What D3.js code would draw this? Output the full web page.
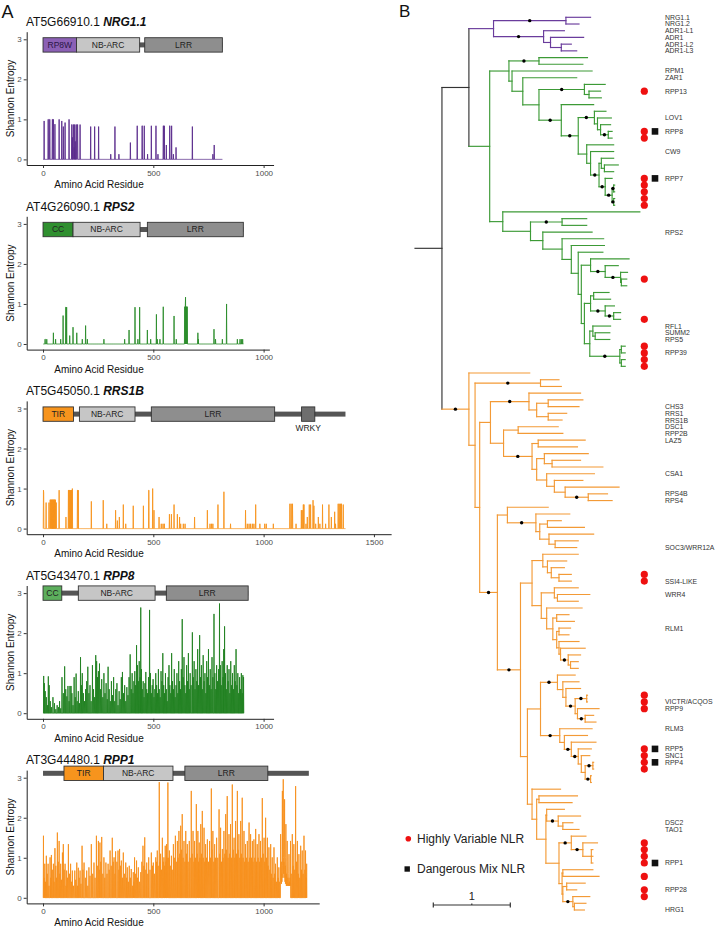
<!DOCTYPE html>
<html><head><meta charset="utf-8">
<script src="https://cdn.jsdelivr.net/npm/d3@7"></script>
<style>
body{margin:0;background:#fff;}
svg{display:block;font-family:"Liberation Sans",Arial,Helvetica,sans-serif;}
</style></head><body>
<svg id="fig" width="720" height="928"></svg>
<script>
// ================= DATA =================
// Panel A: Shannon entropy per residue (residue, entropy); residues not listed are conserved (0)
const nrg11Entropy = [[5,0.96],[23,1.0],[24,1.0],[30,1.0],[31,1.0],[42,1.0],[43,1.0],[47,1.0],[54,0.88],[73,1.0],[85,0.96],[92,0.82],[100,0.92],[118,1.0],[130,0.87],[131,0.87],[133,0.55],[137,0.87],[138,0.87],[141,0.3],[143,0.87],[144,0.87],[146,0.45],[150,0.87],[151,0.87],[156,0.87],[157,0.87],[168,0.87],[216,0.82],[234,0.82],[252,0.82],[307,0.13],[326,0.82],[344,0.13],[396,0.42],[427,0.84],[449,0.84],[450,0.84],[459,0.84],[474,0.13],[491,0.84],[512,0.84],[521,0.13],[545,0.84],[546,0.84],[550,0.84],[559,0.36],[574,0.84],[575,0.84],[583,0.84],[591,0.13],[603,0.3],[677,0.82],[770,0.13],[776,0.36]];
const rps2Entropy = [[9,0.12],[10,0.12],[17,0.12],[47,0.28],[57,0.12],[80,0.12],[91,0.71],[103,0.92],[104,0.92],[107,0.92],[121,0.21],[136,0.42],[153,0.28],[178,0.12],[193,0.46],[201,0.12],[276,0.12],[370,0.12],[390,0.35],[417,0.92],[430,0.12],[438,0.92],[473,0.35],[488,0.12],[514,0.74],[518,0.12],[530,0.12],[545,0.93],[594,0.7],[604,0.12],[642,0.93],[643,0.93],[645,0.93],[646,1.17],[648,0.93],[650,0.93],[651,0.93],[653,0.93],[654,0.93],[702,0.28],[704,0.12],[775,0.37],[782,0.12],[813,0.12],[832,1.0],[881,0.12],[893,0.12],[899,0.12],[905,0.12]];
const rrs1bEntropy = [[2,0.96],[3,0.9],[14,0.65],[27,0.65],[32,0.72],[33,0.72],[35,0.72],[38,0.72],[40,0.72],[42,0.72],[44,0.72],[46,0.72],[48,0.72],[50,0.72],[52,0.72],[54,0.72],[56,0.72],[60,0.65],[73,0.96],[104,0.29],[115,0.96],[116,0.96],[118,0.96],[121,0.96],[122,0.96],[124,0.96],[127,0.96],[128,0.96],[130,0.96],[133,1.0],[156,0.96],[157,0.96],[160,0.96],[219,0.68],[273,0.71],[289,0.12],[329,0.46],[337,0.2],[346,0.29],[364,0.6],[375,0.12],[409,0.57],[455,0.57],[479,0.96],[480,0.96],[497,1.0],[503,0.46],[526,0.29],[536,0.12],[544,0.12],[550,0.12],[573,0.36],[582,0.36],[594,0.6],[609,0.36],[619,0.29],[624,0.12],[636,0.12],[644,0.12],[687,0.29],[745,0.46],[757,0.12],[764,0.12],[770,0.12],[793,0.6],[820,0.92],[850,0.12],[918,0.46],[926,0.12],[934,0.12],[941,0.12],[949,0.12],[956,0.12],[964,0.6],[983,0.12],[1005,0.12],[1012,0.12],[1044,0.12],[1119,0.62],[1125,0.62],[1131,0.62],[1147,0.12],[1171,0.46],[1175,0.46],[1180,0.6],[1183,0.6],[1192,0.12],[1198,0.29],[1207,0.6],[1213,0.6],[1224,0.71],[1228,0.57],[1236,0.12],[1248,0.29],[1255,0.12],[1267,0.6],[1281,0.12],[1296,0.6],[1307,0.29],[1322,0.42],[1326,0.12],[1338,0.62],[1343,0.62],[1349,0.62],[1353,0.62],[1361,0.6]];
const rpp8Entropy = [[3,0.93],[6,0.75],[10,0.55],[15,0.4],[20,0.2],[24,0.92],[28,0.7],[33,0.3],[38,0.15],[45,0.4],[52,0.25],[58,0.1],[64,0.2],[70,0.15],[75,0.3],[80,0.12],[86,0.9],[92,0.5],[98,1.17],[103,0.6],[108,0.42],[113,0.68],[118,0.3],[122,0.68],[127,0.68],[131,0.5],[136,0.2],[141,0.9],[146,0.4],[150,0.99],[155,0.3],[160,0.55],[165,0.25],[170,1.4],[174,0.7],[178,1.0],[183,0.5],[188,0.3],[193,0.6],[198,0.8],[203,1.16],[208,0.5],[213,0.7],[218,0.3],[224,1.2],[229,0.6],[234,0.4],[239,1.45],[243,1.3],[247,0.9],[251,1.05],[256,1.24],[261,0.6],[266,0.85],[271,0.4],[276,1.0],[281,0.5],[286,0.75],[291,0.35],[295,1.16],[300,0.6],[305,0.3],[310,0.8],[315,0.45],[320,0.9],[325,0.3],[330,0.6],[335,0.75],[340,0.2],[345,0.55],[350,0.35],[355,0.9],[360,1.03],[365,0.5],[370,0.7],[375,0.3],[380,0.65],[385,0.45],[390,0.9],[395,1.47],[400,0.6],[404,1.0],[408,0.5],[412,0.8],[416,1.05],[420,0.7],[424,1.7],[428,1.2],[432,0.8],[436,1.3],[440,0.9],[443,2.64],[446,1.1],[450,0.6],[454,0.8],[458,0.4],[462,0.75],[466,1.03],[470,0.6],[474,0.5],[478,0.9],[483,2.58],[487,1.0],[491,0.5],[495,0.7],[499,0.85],[503,0.4],[507,0.6],[511,1.0],[515,0.7],[519,0.5],[523,1.1],[527,0.6],[531,0.4],[535,1.05],[539,0.8],[543,1.5],[547,0.7],[551,0.5],[555,1.0],[559,0.6],[563,0.3],[567,0.9],[571,1.2],[575,0.7],[579,0.5],[583,1.5],[587,0.8],[591,0.6],[595,1.1],[599,0.4],[603,0.7],[607,1.0],[611,0.5],[615,1.3],[619,0.8],[623,0.6],[627,1.1],[631,2.35],[635,0.9],[639,1.4],[643,0.7],[647,0.5],[651,1.2],[655,0.8],[659,1.5],[663,0.6],[667,1.0],[671,0.7],[677,2.02],[681,0.9],[685,1.3],[689,0.6],[693,1.1],[697,0.8],[701,1.6],[705,0.7],[710,1.95],[714,0.9],[718,1.2],[722,0.6],[726,1.45],[730,0.8],[734,1.0],[738,0.5],[742,1.3],[746,0.9],[750,1.6],[754,0.7],[758,1.1],[762,0.6],[766,1.4],[770,0.9],[775,2.48],[779,1.0],[783,0.6],[787,1.2],[791,0.8],[796,1.1],[800,2.74],[804,1.2],[808,0.7],[812,1.3],[816,0.9],[819,1.6],[823,2.17],[827,1.0],[831,0.6],[835,1.2],[839,0.8],[843,1.1],[847,0.5],[851,1.3],[855,0.7],[859,1.0],[863,0.6],[867,1.2],[871,0.8],[875,1.6],[879,0.7],[883,1.0],[887,0.5],[891,0.9],[895,0.6],[899,1.0],[903,0.5],[906,0.95],[909,0.9]];
const rpp1Entropy = [[2,1.55],[5,0.5],[8,0.85],[11,0.4],[15,1.05],[19,0.6],[23,0.85],[27,0.3],[32,1.01],[35,0.5],[38,1.07],[42,0.7],[47,0.85],[50,0.4],[54,1.24],[58,0.8],[61,0.5],[65,1.63],[69,0.9],[73,1.42],[76,0.6],[80,0.85],[84,0.45],[88,1.13],[92,1.34],[96,0.7],[100,0.85],[104,0.3],[107,0.68],[111,0.5],[115,1.34],[120,0.6],[125,0.85],[129,0.4],[133,0.68],[138,0.3],[144,0.68],[148,0.45],[153,0.88],[156,0.3],[160,0.75],[164,0.5],[168,0.68],[172,0.35],[177,1.3],[181,0.7],[186,0.88],[192,0.5],[198,0.68],[203,0.3],[208,0.76],[213,0.55],[219,1.34],[225,0.6],[231,0.88],[236,0.5],[242,1.55],[246,0.8],[251,1.42],[255,0.7],[258,1.38],[262,0.9],[266,1.52],[271,0.6],[276,1.01],[280,0.5],[285,0.88],[290,0.6],[295,0.85],[300,0.7],[304,1.18],[309,0.8],[314,1.5],[318,0.9],[322,1.01],[326,0.6],[329,1.16],[335,0.9],[340,1.18],[344,0.7],[347,1.22],[351,0.8],[355,0.93],[360,0.5],[364,1.13],[370,0.6],[375,0.88],[379,0.5],[382,0.76],[387,0.4],[391,0.8],[396,0.5],[400,0.72],[405,0.3],[409,0.64],[412,0.4],[415,1.01],[420,0.6],[424,0.93],[428,0.5],[432,0.76],[438,0.4],[443,0.64],[448,0.9],[453,1.3],[457,0.8],[461,1.51],[466,0.7],[470,0.88],[475,0.6],[479,1.01],[485,0.7],[491,1.13],[496,0.8],[500,0.88],[505,0.6],[511,1.01],[515,0.9],[518,1.18],[522,0.8],[527,2.89],[530,0.9],[533,1.1],[537,0.7],[541,1.5],[545,0.9],[548,1.01],[551,0.8],[554,1.3],[557,0.9],[560,1.34],[563,1.0],[566,2.88],[570,1.0],[573,1.18],[577,0.8],[582,1.05],[586,0.7],[591,1.34],[595,1.0],[600,1.55],[604,0.9],[609,1.42],[612,1.0],[616,1.67],[620,1.1],[624,1.8],[627,1.2],[631,2.09],[635,1.0],[639,1.42],[643,0.9],[647,1.67],[650,1.1],[654,1.34],[658,0.9],[663,1.42],[667,1.0],[672,2.67],[676,1.1],[680,1.67],[684,0.9],[687,1.42],[691,1.0],[695,2.34],[699,1.1],[702,1.67],[705,0.9],[708,1.38],[711,1.0],[715,1.84],[718,1.1],[722,2.17],[726,1.0],[730,1.75],[733,0.9],[737,1.34],[741,1.0],[745,1.46],[750,0.9],[755,1.42],[759,1.0],[763,2.73],[766,1.2],[770,1.67],[774,0.9],[778,1.34],[782,1.0],[787,1.5],[792,1.0],[798,2.21],[801,1.1],[805,1.75],[809,0.9],[813,1.22],[816,1.0],[820,1.67],[824,1.1],[828,2.09],[831,1.2],[835,2.54],[839,1.0],[843,1.59],[846,1.1],[850,1.84],[854,1.0],[858,2.83],[862,1.2],[866,1.5],[869,1.0],[873,1.92],[877,1.1],[881,2.67],[884,1.2],[888,1.59],[892,1.0],[896,1.92],[899,1.1],[903,2.5],[907,1.0],[911,1.67],[914,0.9],[918,1.34],[922,1.0],[926,1.42],[930,0.9],[934,1.88],[937,1.0],[941,1.59],[945,1.0],[949,1.42],[952,0.9],[956,1.46],[960,1.0],[964,1.72],[968,0.9],[971,1.34],[975,1.0],[979,1.59],[982,0.9],[986,1.42],[990,1.0],[994,2.49],[998,1.1],[1002,1.5],[1005,0.9],[1009,2.0],[1013,1.0],[1017,1.5],[1020,0.8],[1024,1.26],[1028,0.7],[1032,1.34],[1035,0.6],[1039,1.01],[1043,0.5],[1047,1.26],[1050,0.6],[1054,0.85],[1058,0.4],[1062,1.01],[1066,0.5],[1069,0.76],[1073,0.4],[1077,1.59],[1078,0.5],[1079,0.4],[1080,0.9],[1081,0.35],[1082,0.6],[1083,0.4],[1084,1.2],[1085,2.67],[1086,0.8],[1087,0.5],[1088,1.5],[1089,2.96],[1090,1.0],[1091,0.6],[1092,0.9],[1093,0.5],[1094,1.2],[1095,2.46],[1096,0.7],[1097,0.4],[1098,0.8],[1099,0.35],[1100,1.0],[1101,1.84],[1102,0.5],[1103,0.3],[1104,0.6],[1105,0.3],[1106,0.9],[1107,1.42],[1108,0.4],[1109,0.3],[1110,0.5],[1111,0.3],[1112,0.35],[1113,0.3],[1114,0.6],[1115,1.09],[1116,0.35],[1117,0.3],[1118,0.4],[1119,0.3],[1120,0.5],[1121,0.3],[1122,1.42],[1125,0.6],[1130,1.59],[1134,0.8],[1137,1.34],[1141,0.7],[1145,2.79],[1149,0.9],[1153,1.42],[1157,0.6],[1160,1.09],[1164,0.5],[1168,1.3],[1172,0.7],[1175,1.18],[1179,0.6],[1183,1.55],[1187,0.7],[1190,1.18],[1193,0.5],[1195,0.85]];

// Protein domain architecture (name, start residue, end residue)
const nrg11Domains = [["RP8W",0,152],["NB-ARC",152,438],["LRR",461,813]];
const rps2Domains  = [["CC",0,136],["NB-ARC",136,440],["LRR",473,908]];
const rrs1bDomains = [["TIR",0,138],["NB-ARC",165,417],["LRR",491,1050],["WRKY",1172,1232]];
const rpp8Domains  = [["CC",0,85],["NB-ARC",160,508],["LRR",559,930]];
const rpp1Domains  = [["TIR",95,274],["NB-ARC",274,589],["LRR",643,1019]];

const loci = ["AT5G66910.1","AT4G26090.1","AT5G45050.1","AT5G43470.1","AT3G44480.1"];
const genes = ["NRG1.1","RPS2","RRS1B","RPP8","RPP1"];
const proteinLength = [813, 908, 1371, 930, 1205];
const entropyLength = [813, 908, 1371, 910, 1196];
const xTickValues = [[0,500,1000],[0,500,1000],[0,500,1000,1500],[0,500,1000],[0,500,1000]];
const yTickValues = [0,1,2,3];

// Panel B: NLR phylogeny (Newick, branch lengths in substitutions/site; "*" = supported node)
const rpw8Clade = "((NRG1.1:0.32,NRG1.2:0.17)*:0.94,(ADR1-L1:0.27,(ADR1:0.43,(ADR1-L2:0.13,ADR1-L3:0.20):0.14):0.09)*:0.65)";
const cnlRpp13 = "(:0.27,(RPP13:0.15,:0.16):0.06)";
const cnlRpp8 = "(:0.15,(LOV1:0.18,(:0.13,(RPP8:0.05,:0.05)*:0.10):0.04):0.04)";
const cnlRpp7 = "((:0.16,(:0.18,:0.12):0.04):0.03,(RPP7:0.09,((:0.013,:0.013)*:0.02,(:0.013,:0.013)*:0.02)*:0.09)*:0.08)";
const cnlUpper = `((:0.63,:0.57)*:0.39,(RPM1:1.04,(ZAR1:0.70,(${cnlRpp13}*:0.59,(:0.42,(${cnlRpp8}*:0.21,(:0.35,(CW9:0.30,${cnlRpp7}*:0.11):0.05):0.11)*:0.22)*:0.29):0.21):0.14):0.04)`;
const cnlH9 = "(:0.50,(:0.17,(:0.09,(:0.07,:0.07):0.01)*:0.20)*:0.19)";
const cnlH14 = "((:0.20,:0.22):0.04,(:0.12,(:0.09,:0.09)*:0.11)*:0.19)";
const cnlRpp39 = "((RFL1:0.23,(SUMM2:0.19,RPS5:0.19):0.03):0.04,((:0.05,RPP39:0.05):0.02,(:0.05,:0.05):0.02)*:0.39)";
const cnlLower = `(:1.78,((:0.32,:0.32)*:0.41,(RPS2:0.64,(:0.54,(:0.43,(:0.32,(${cnlH9}:0.12,(${cnlH14}:0.08,${cnlRpp39}:0.07):0.04):0.04):0.09):0.12):0.25):0.16):0.36)`;
const cnlClade = `(${cnlUpper}:0.25,${cnlLower}:0.17)`;
const tnlRrs1 = "(:0.67,((:0.45,CHS3:0.40):0.15,(RRS1:0.24,RRS1B:0.18):0.15):0.10)";
const tnlRps4 = "((DSC1:0.52,RPP2B:0.58):0.19,((LAZ5:0.61,:0.51):0.08,((:0.57,(:0.37,:0.66):0.10):0.10,(CSA1:0.62,(:0.37,(:0.70,(RPS4B:0.25,RPS4:0.31)*:0.30):0.14):0.10):0.13):0.06)*:0.37)";
const tnlSoc3 = "(:0.53,(:0.44,((:0.18,:0.48):0.10,(:0.58,(:0.30,SOC3/WRR12A:0.28):0.08):0.12):0.05)*:0.37)";
const tnlSsi4 = "(:0.46,(:0.25,(:0.17,(:0.16,SSI4-LIKE:0.16):0.10):0.05):0.06)";
const tnlRlm1 = "((:0.31,(WRR4:0.42,:0.27):0.04):0.17,(:0.46,((:0.16,:0.23):0.05,((RLM1:0.15,:0.13):0.03,(:0.26,(:0.32,(:0.16,(:0.10,:0.10):0.03)*:0.10):0.02):0.03):0.05):0.08):0.07)";
const tnlRpp9 = "(:0.23,(:0.21,(:0.19,((:0.01,VICTR/ACQOS:0.01)*:0.15,(RPP9:0.28,(:0.11,:0.14)*:0.10):0.03)*:0.12):0.04):0.07)";
const tnlRpp4 = "(RLM3:0.42,(:0.30,(:0.32,(RPP5:0.17,(SNC1:0.11,((RPP4:0.01,:0.01)*:0.10,(:0.01,:0.01)*:0.07):0.05):0.04)*:0.09)*:0.09):0.06)";
const tnlRpp1 = "(:0.37,((:0.50,:0.43):0.03,((:0.23,(:0.29,(DSC2:0.13,TAO1:0.21):0.06)*:0.15):0.01,((:0.19,(:0.19,(:0.02,:0.02,RPP1:0.02):0.11)*:0.15)*:0.16,((:0.39,:0.47):0.01,((:0.24,RPP28:0.13):0.05,(:0.22,(:0.15,HRG1:0.13):0.02)*:0.13):0.01):0.04):0.17):0.12):0.06)";
const tnlClade = `(:0.79,((:0.24,:0.27)*:0.85,((${tnlRrs1}*:0.50,${tnlRps4}:0.17):0.14,(${tnlSoc3}:0.13,((${tnlSsi4}:0.14,${tnlRlm1}:0.12):0.15,((${tnlRpp9}*:0.22,${tnlRpp4}*:0.25):0.17,${tnlRpp1}:0.06):0.09)*:0.30)*:0.23):0.06):0.08)`;
const treeNewick = `((${rpw8Clade}:0.32,${cnlClade}:0.27):0.35,${tnlClade}*:0.35):0.35;`;

// Leaves (tip order) flagged in the figure
const highlyVariableTips = [11,17,18,24,25,26,27,28,39,45,49,50,51,52,83,84,101,102,103,109,110,111,112,123,124,125,126,128,130,131];
const dangerousMixTips = [17,24,109,111,126];
const legendItems = ["Highly Variable NLR","Dangerous Mix NLR"];
const scaleBarLength = 1;

// ================= STYLE / LAYOUT =================
const lineColor = ["#5a2b8c","#2a8c2a","#f7941d","#1f801f","#f7901c"];
const ccFill = [null,"#2f8f2f",null,"#5cae5c",null];
const domainFill = {"RP8W":"#8b60b5","NB-ARC":"#c6c6c6","LRR":"#8e8e8e","TIR":"#f7941d","WRKY":"#6e6e6e"};
const axisEndResidue = [1045,1026,1578,1045,1252];
const barLevel = [2.86,2.86,2.86,3.0,3.11];
const panelStep = 184.6;
const pxPerResidue = 0.2206;
const entropySets = [nrg11Entropy, rps2Entropy, rrs1bEntropy, rpp8Entropy, rpp1Entropy];
const domainSets = [nrg11Domains, rps2Domains, rrs1bDomains, rpp8Domains, rpp1Domains];

const svg = d3.select("#fig");
svg.append("rect").attr("width",720).attr("height",928).attr("fill","#fff");

// ---- Panel A ----
svg.append("text").attr("x",1.5).attr("y",18).attr("font-size",18).attr("fill","#111").text("A");

entropySets.forEach((vals, k) => {
  const dy = k * panelStep;
  const g = svg.append("g");
  const x = d3.scaleLinear().domain([-74, axisEndResidue[k]])
    .range([26.7, 26.7 + (axisEndResidue[k] + 74) * pxPerResidue]);
  const y = d3.scaleLinear().domain([-0.14, 3.19]).range([165 + dy, 31.7 + dy]);

  // title
  const t = g.append("text").attr("x",26).attr("y",26 + dy).attr("font-size",12).attr("fill","#111");
  t.append("tspan").text(loci[k] + " ");
  t.append("tspan").attr("font-weight","bold").attr("font-style","italic").text(genes[k]);

  // entropy line
  const m = new Map(vals);
  const series = d3.range(1, entropyLength[k] + 1).map(r => [r, m.get(r) || 0]);
  g.append("path").datum(series)
    .attr("d", d3.line().x(d => x(d[0])).y(d => y(d[1])))
    .attr("fill","none").attr("stroke", lineColor[k]).attr("stroke-width",0.9)
    .attr("stroke-linejoin","miter");

  // domain architecture
  const by = y(barLevel[k]);
  g.append("rect").attr("x", x(0)).attr("width", x(proteinLength[k]) - x(0))
    .attr("y", by - 2.5).attr("height", 5).attr("fill","#555");
  domainSets[k].forEach(([name, s, e]) => {
    const fill = name === "CC" ? ccFill[k] : domainFill[name];
    g.append("rect").attr("x", x(s)).attr("width", x(e) - x(s))
      .attr("y", by - 7.2).attr("height", 14.4)
      .attr("fill", fill).attr("stroke","#333").attr("stroke-width",0.9);
    if (name === "WRKY") {
      g.append("text").attr("x",(x(s)+x(e))/2).attr("y", by + 17).attr("text-anchor","middle")
        .attr("font-size",8.5).attr("fill","#222").text(name);
    } else {
      g.append("text").attr("x",(x(s)+x(e))/2).attr("y", by).attr("dy","0.35em")
        .attr("text-anchor","middle").attr("font-size",8.5)
        .attr("fill", name === "RP8W" ? "#2a1646" : "#222").text(name);
    }
  });

  // axes
  const ya = g.append("g").attr("transform","translate(26.7,0)")
    .call(d3.axisLeft(y).tickValues(yTickValues).tickSize(3).tickSizeOuter(0).tickPadding(2).tickFormat(d3.format("d")));
  const xa = g.append("g").attr("transform",`translate(0,${165 + dy})`)
    .call(d3.axisBottom(x).tickValues(xTickValues[k]).tickSize(3).tickSizeOuter(0).tickPadding(2).tickFormat(d3.format("d")));
  [ya, xa].forEach(a => {
    a.attr("font-family",null).attr("font-size",null);
    a.select(".domain").attr("stroke","#222").attr("stroke-width",1);
    a.selectAll(".tick line").attr("stroke","#333");
    a.selectAll(".tick text").attr("font-size",8).attr("fill","#4d4d4d");
  });

  g.append("text").attr("x",99).attr("y",188 + dy).attr("text-anchor","middle")
    .attr("font-size",10).attr("fill","#111").text("Amino Acid Residue");
  g.append("text").attr("transform",`translate(13.5,${98.5 + dy}) rotate(-90)`)
    .attr("text-anchor","middle").attr("font-size",10).attr("fill","#111").text("Shannon Entropy");
});

// ---- Panel B ----
svg.append("text").attr("x",399).attr("y",17).attr("font-size",17).attr("fill","#111").text("B");

function parseNewick(str) {
  let i = 0;
  function node() {
    const n = { name: "", length: 0 };
    if (str[i] === "(") {
      i++;
      n.children = [node()];
      while (str[i] === ",") { i++; n.children.push(node()); }
      i++;
    }
    let s = i;
    while (i < str.length && !",():;".includes(str[i])) i++;
    n.name = str.slice(s, i);
    if (str[i] === ":") {
      i++; s = i;
      while (i < str.length && !",();".includes(str[i])) i++;
      n.length = parseFloat(str.slice(s, i));
    }
    return n;
  }
  return node();
}

const tree = d3.hierarchy(parseNewick(treeNewick));
tree.eachBefore(n => n.dist = (n.parent ? n.parent.dist : 0) + n.data.length);
const tips = tree.leaves();
tips.forEach((l, i) => l.yi = i);
tree.eachAfter(n => { if (n.children) n.yi = d3.mean(n.children, c => c.yi); });

const treeX = d3.scaleLinear().domain([0, 1]).range([415, 492]);
const treeY = d3.scaleLinear().domain([0, tips.length - 1]).range([17.3, 910]);

const cladeColor = { base: "#333333", rpw8: "#6a3c9c", cnl: "#3c9a36", tnl: "#f39a36" };
tree.each(n => n.color = cladeColor.base);
tree.children[0].children[0].each(n => n.color = cladeColor.rpw8);
tree.children[0].children[1].each(n => n.color = cladeColor.cnl);
tree.children[1].each(n => n.color = cladeColor.tnl);

const tg = svg.append("g").attr("stroke-width",1.15).attr("stroke-linecap","square").attr("fill","none");
// root edge
tg.append("line").attr("x1",treeX(0)).attr("x2",treeX(tree.dist))
  .attr("y1",treeY(tree.yi)).attr("y2",treeY(tree.yi)).attr("stroke",cladeColor.base);
tree.descendants().forEach(n => {
  if (n.parent) {
    tg.append("line").attr("x1",treeX(n.parent.dist)).attr("x2",treeX(n.dist))
      .attr("y1",treeY(n.yi)).attr("y2",treeY(n.yi)).attr("stroke",n.color);
  }
  if (n.children) {
    const ys = n.children.map(c => c.yi);
    tg.append("line").attr("x1",treeX(n.dist)).attr("x2",treeX(n.dist))
      .attr("y1",treeY(d3.min(ys))).attr("y2",treeY(d3.max(ys))).attr("stroke",n.color);
  }
});
// support dots
svg.append("g").selectAll("circle")
  .data(tree.descendants().filter(n => n.parent && n.data.name === "*"))
  .join("circle")
  .attr("cx", n => (treeX(n.parent.dist) + treeX(n.dist)) / 2)
  .attr("cy", n => treeY(n.yi)).attr("r",1.7).attr("fill","#000");

// tip labels
svg.append("g").selectAll("text")
  .data(tips.filter(l => l.data.name))
  .join("text")
  .attr("x",665).attr("y", l => treeY(l.yi)).attr("dy","0.36em")
  .attr("font-size",6.9).attr("fill","#333").text(l => l.data.name);

// markers
svg.append("g").selectAll("circle").data(highlyVariableTips).join("circle")
  .attr("cx",644.3).attr("cy", i => treeY(i)).attr("r",3.6).attr("fill","#ee1111");
svg.append("g").selectAll("rect").data(dangerousMixTips).join("rect")
  .attr("x",655 - 3.3).attr("y", i => treeY(i) - 3.3).attr("width",6.6).attr("height",6.6).attr("fill","#111");

// legend
const lg = svg.append("g");
lg.append("circle").attr("cx",408.3).attr("cy",838.7).attr("r",2.8).attr("fill","#ee1111");
lg.append("rect").attr("x",404.5).attr("y",866.3).attr("width",5.4).attr("height",5.4).attr("fill","#111");
legendItems.forEach((txt, i) => {
  lg.append("text").attr("x",417).attr("y",838.7 + i * 30.3).attr("dy","0.36em")
    .attr("font-size",12).attr("fill","#222").text(txt);
});

// scale bar
const sbx0 = 433.3, sby = 905;
const sbw = treeX(scaleBarLength) - treeX(0);
const sb = svg.append("g").attr("stroke","#333").attr("stroke-width",1.2);
sb.append("line").attr("x1",sbx0).attr("x2",sbx0 + sbw).attr("y1",sby).attr("y2",sby);
sb.append("line").attr("x1",sbx0).attr("x2",sbx0).attr("y1",sby - 2.5).attr("y2",sby + 2.5);
sb.append("line").attr("x1",sbx0 + sbw).attr("x2",sbx0 + sbw).attr("y1",sby - 2.5).attr("y2",sby + 2.5);
sb.append("line").attr("x1",sbx0 + sbw/2).attr("x2",sbx0 + sbw/2).attr("y1",sby - 1.5).attr("y2",sby);
svg.append("text").attr("x",sbx0 + sbw/2).attr("y",900).attr("text-anchor","middle")
  .attr("font-size",11).attr("fill","#222").text(String(scaleBarLength));
</script></body></html>
